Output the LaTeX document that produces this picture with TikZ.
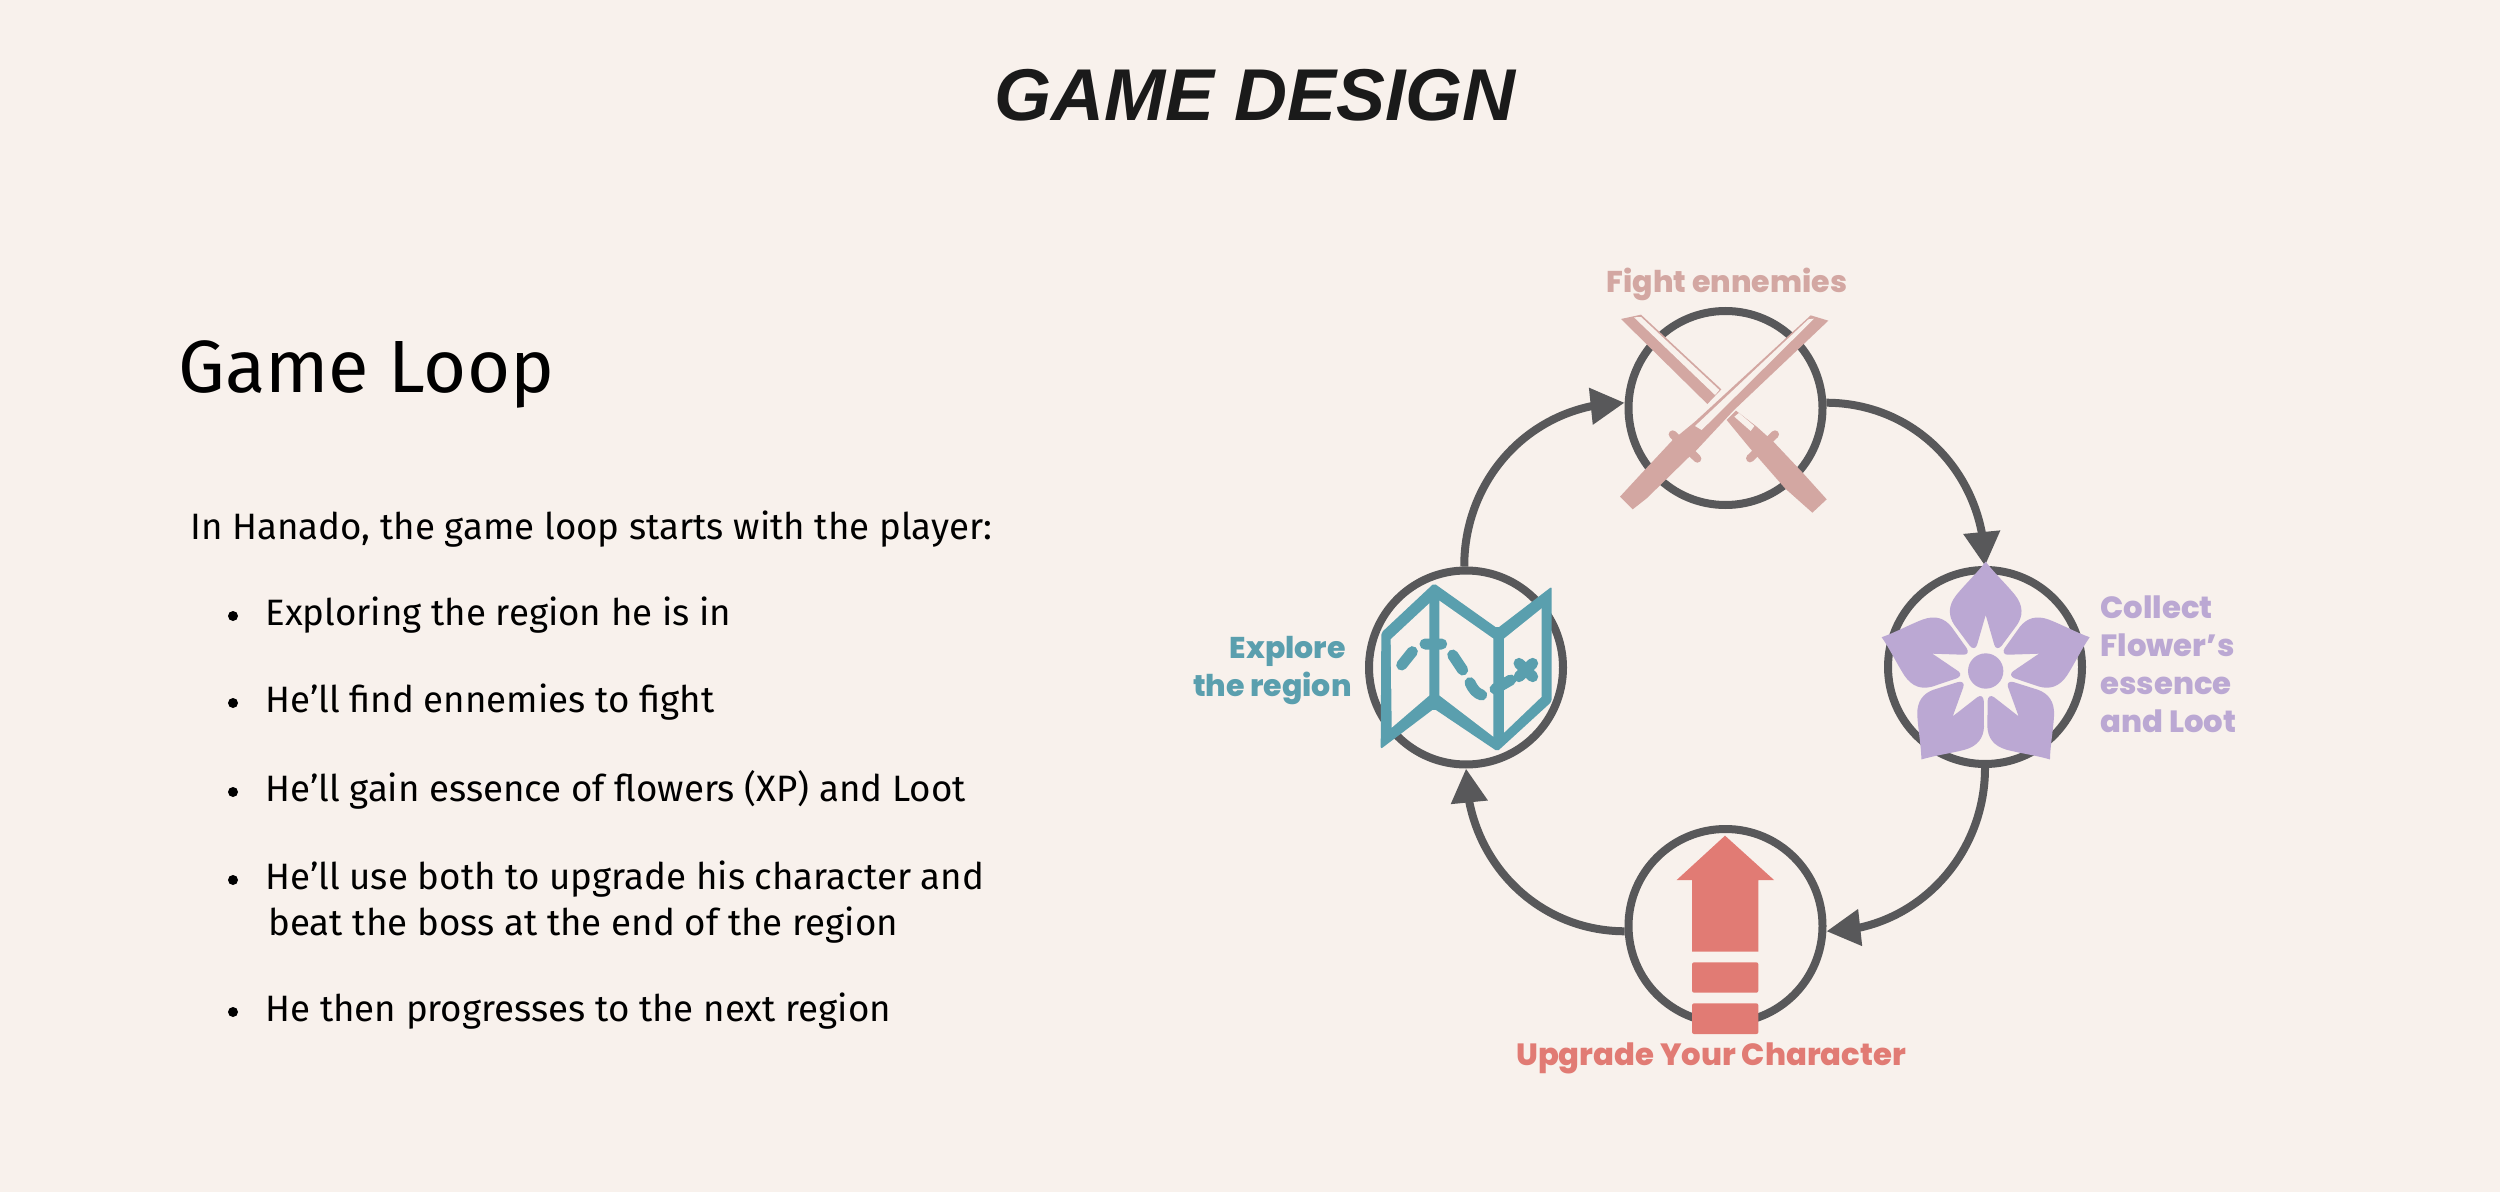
\documentclass[tikz,border=0pt]{standalone}
\usepackage{fontspec}
\usetikzlibrary{arrows.meta,bending}
\setmainfont{Liberation Sans}
\newfontfamily\uifont{Fira Sans}
\newfontfamily\iconfont{Poppins ExtraBold}
\definecolor{bgc}{HTML}{F8F1EC}
\definecolor{ink}{HTML}{1A1A1A}
\definecolor{ringc}{HTML}{58585A}
\definecolor{swordc}{HTML}{D3A7A2}
\definecolor{mapc}{HTML}{5A9FAE}
\definecolor{flowerc}{HTML}{BBA8D3}
\definecolor{upc}{HTML}{E17B74}
\tikzset{
  ring/.style={circle,draw=ringc,line width=4pt,minimum size=97pt,inner sep=0pt,outer sep=2pt},
  loopline/.style={draw=ringc,line width=4pt,-{Triangle[length=17pt,width=17.5pt,flex=1]}},
  body/.style={font=\uifont\fontsize{18.35}{21}\selectfont,text=black,anchor=base west,inner sep=0pt},
  lbl/.style={font=\iconfont\fontsize{15}{19}\selectfont,inner sep=0pt},
  lblb/.style={font=\iconfont\fontsize{15.35}{19}\selectfont,inner sep=0pt},
  zoomed/.style={x=0.16667pt,y=-0.16667pt}
}
\begin{document}
\begin{tikzpicture}[x=0.5pt,y=-0.5pt]
\useasboundingbox (0,0) rectangle (2500,1192);
\fill[bgc] (0,0) rectangle (2500,1192);
\node[inner sep=0pt,anchor=base,text=ink,font=\fontsize{36.7}{40}\selectfont\bfseries\itshape] (title) at (1255,121) {GAME DESIGN};
\node[inner sep=0pt,anchor=base west,font=\uifont\fontsize{37}{42}\selectfont] (gl) at (178,393) {Game Loop};
\node[body] (intro) at (190,539) {In Hanado, the game loop starts with the player:};
\foreach \n/\yy/\t in {a/625/Exploring the region he is in,b/712/He’ll find ennemies to fight,c/801/He’ll gain essence of flowers (XP) and Loot,d/889/He’ll use both to upgrade his character and,e/1021/He then progresses to the next region}{
  \node[body] (bul\n) at (265,\yy) {\t};
  \fill[black] (233,\yy-9) circle (5);
}
\node[body] (bulf) at (268,935) {beat the boss at the end of the region};
% rings
\node[ring] (fight) at (1725.5,408) {};
\node[ring] (explore) at (1466,667.5) {};
\node[ring] (collect) at (1985,667) {};
\node[ring] (upgrade) at (1725.5,926) {};
% arcs
\draw[loopline] (explore.91) .. controls (1464,476) and (1534,403) .. (fight.177);
\draw[loopline] (fight.3) .. controls (1917,403) and (1985,476) .. (collect.north);
\draw[loopline] (collect.south) .. controls (1985,857) and (1915,931) .. (upgrade.-3);
\draw[loopline] (upgrade.183) .. controls (1535,931) and (1466,858) .. (explore.south);
% swords
\begin{scope}[shift={(1560,240)},zoomed]
\fill[swordc] (183,237) -- (243,224) -- (484,448) -- (442,492) -- cycle;
\fill[bgc] (222,232) -- (243,231) -- (478,450) -- (465,465) -- cycle;
\fill[swordc] (500,540) -- (528,512) -- (590,560) -- (640,605) -- (725,695) -- (800,778) -- (757,818) -- (675,745) -- (570,625) -- cycle;
\fill[bgc] (537,519) -- (583,558) -- (572,573) -- (523,530) -- cycle;
\draw[swordc,line width=4pt,line cap=round] (645,583) -- (570,655);
\fill[swordc] (805,242) -- (752,226) -- (405,545) -- (338,600) -- (240,705) -- (180,770) -- (218,808) -- (260,775) -- (388,650) -- (408,632) -- (520,512) -- cycle;
\fill[bgc] (745,238) -- (762,236) -- (425,570) -- (405,558) -- cycle;
\draw[swordc,line width=4pt,line cap=round] (338,583) -- (412,656);
\end{scope}
% map
\begin{scope}[shift={(1180,540)},zoomed]
\fill[mapc,rounded corners=1pt] (604,278) -- (762,130) -- (952,265) -- (1115,140) -- (1115,485) -- (952,634) -- (762,506) -- (602,627) -- cycle;
\fill[bgc] (632,298) -- (748,190) -- (748,466) -- (635,563) -- cycle;
\fill[bgc] (778,182) -- (940,296) -- (940,590) -- (778,466) -- cycle;
\fill[bgc] (972,296) -- (1085,205) -- (1085,470) -- (972,578) -- cycle;
\draw[mapc,line width=5.5pt,line cap=round] (665,375) -- (697,335) (735,312) -- (785,312) (818,345) -- (848,390) (870,428) .. controls (880,450) and (890,460) .. (905,465) (945,447) -- (992,420) (1017,370) -- (1058,410) (1058,370) -- (1017,410);
\end{scope}
% flower
\begin{scope}[shift={(1850,550)},zoomed]
\fill[flowerc] (407,363) circle (53);
\foreach \i in {0,1,2,3,4}{
\begin{scope}[shift={(407,363)},rotate=72*\i]
\fill[flowerc] (0,-328) .. controls (25,-295) and (62,-260) .. (88,-228) .. controls (114,-195) and (112,-165) .. (94,-138) -- (48,-76) .. controls (40,-66) and (30,-66) .. (26,-78) -- (0,-168) -- (-26,-78) .. controls (-30,-66) and (-40,-66) .. (-48,-76) -- (-94,-138) .. controls (-112,-165) and (-114,-195) .. (-88,-228) .. controls (-62,-260) and (-25,-295) .. (0,-328) -- cycle;
\end{scope}}
\end{scope}
% up arrow
\begin{scope}[shift={(1480,800)},zoomed]
\fill[upc] (735,107) -- (882,240) -- (835,240) -- (835,455) -- (636,455) -- (636,240) -- (590,240) -- cycle;
\fill[upc,rounded corners=1pt] (636,487) rectangle (835,578);
\fill[upc,rounded corners=1pt] (636,610) rectangle (835,702);
\end{scope}
% labels
\node[lbl,text=swordc,anchor=base] (lf) at (1727,293) {Fight ennemies};
\node[lbl,text=mapc,anchor=base east] (le1) at (1346,658) {Explore};
\node[lbl,text=mapc,anchor=base east] (le2) at (1352,696) {the region};
\node[lblb,text=flowerc,anchor=base west] (lc1) at (2100,618) {Collect};
\node[lblb,text=flowerc,anchor=base west] (lc2) at (2100,656) {Flower’s};
\node[lblb,text=flowerc,anchor=base west] (lc3) at (2100,694) {essence};
\node[lblb,text=flowerc,anchor=base west] (lc4) at (2100,732) {and Loot};
\node[lblb,text=upc,anchor=base] (lu) at (1711,1065) {Upgrade Your Character};
\end{tikzpicture}
\end{document}
